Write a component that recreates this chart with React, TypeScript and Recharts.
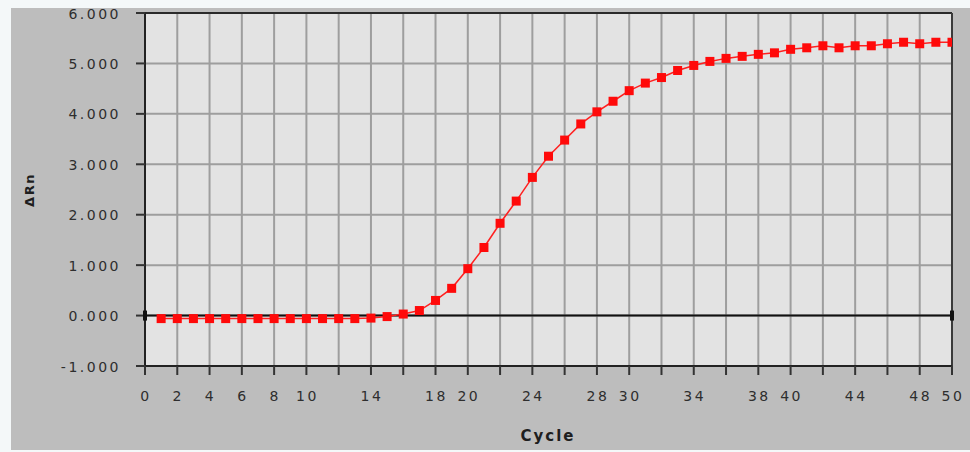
import React from 'react';
import { LineChart, Line, XAxis, YAxis, CartesianGrid, ReferenceLine, ReferenceDot } from 'recharts';

const cycles = [
    1, 2, 3, 4, 5, 6, 7, 8, 9, 10, 11, 12, 13, 14, 15, 16, 17, 18, 19, 20, 21, 22, 23, 24, 25,
    26, 27, 28, 29, 30, 31, 32, 33, 34, 35, 36, 37, 38, 39, 40, 41, 42, 43, 44, 45, 46, 47, 48, 49, 50,
];
const deltaRn = [
    -0.06, -0.06, -0.06, -0.06, -0.06, -0.06, -0.06, -0.06, -0.06, -0.06, -0.06, -0.06, -0.06,
    -0.05, -0.02, 0.03, 0.1, 0.3, 0.54, 0.93, 1.35, 1.83, 2.27, 2.74, 3.16, 3.48, 3.8, 4.04, 4.25,
    4.46, 4.61, 4.72, 4.86, 4.96, 5.04, 5.1, 5.14, 5.18, 5.21, 5.28, 5.31, 5.35, 5.31, 5.35, 5.35,
    5.39, 5.42, 5.39, 5.42, 5.42,
];
const yTicks = [-1, 0, 1, 2, 3, 4, 5, 6];
const xTicks = [0, 2, 4, 6, 8, 10, 12, 14, 16, 18, 20, 22, 24, 26, 28, 30, 32, 34, 36, 38, 40, 42, 44, 46, 48, 50];
const xTickLabels = [0, 2, 4, 6, 8, 10, 14, 18, 20, 24, 28, 30, 34, 38, 40, 44, 48, 50];

const data = cycles.map((c, i) => ({ cycle: c, rn: deltaRn[i] }));

const FONT = '"DejaVu Sans", Verdana, sans-serif';
const TEXT = '#2e2e2e';
const PLOT_RIGHT = 952; // right edge of the plot, squares are cut there

const YTick = (props: any) => {
    const { y, payload } = props;
    return (
        <text x={121} y={y + 5.5} textAnchor="end" fontFamily={FONT} fontSize={14} letterSpacing={2.5} fill={TEXT}>
            {payload.value.toFixed(3)}
        </text>
    );
};

const XTick = (props: any) => {
    const { x, payload } = props;
    if (!xTickLabels.includes(payload.value)) return <g />;
    return (
        <text x={x + 1} y={401} textAnchor="middle" fontFamily={FONT} fontSize={14} letterSpacing={2.5} fill={TEXT}>
            {payload.value}
        </text>
    );
};

const SquareDot = (props: any) => {
    const { cx, cy, index } = props;
    if (cx == null || cy == null) return <g key={`d-${index}`} />;
    const left = cx - 4.5;
    const w = Math.min(cx + 4.5, PLOT_RIGHT) - left;
    return <rect key={`d-${index}`} x={left} y={cy - 4.5} width={w} height={9} fill="#ff0a0a" />;
};

const Handle = (props: any) => {
    const { cx, cy } = props;
    return <rect x={cx - 2} y={cy - 5} width={4} height={10} fill="#111" />;
};

export default function App() {
    return (
        <div style={{ position: 'absolute', left: 0, top: 0, width: 970, height: 452, background: '#f4f8f9' }}>
            <div style={{ position: 'absolute', left: 11, top: 8, width: 959, height: 442, background: '#bdbdbd' }} />
            <div style={{ position: 'absolute', left: 0, top: 0 }}>
                <LineChart width={970} height={452} data={data} margin={{ top: 13, right: 18, bottom: 36, left: 10 }}>
                    <CartesianGrid stroke="#9e9e9e" strokeWidth={2} fill="#e3e3e3" />
                    <XAxis
                        dataKey="cycle"
                        type="number"
                        domain={[0, 50]}
                        ticks={xTicks}
                        interval={0}
                        height={50}
                        tickSize={9}
                        tick={<XTick />}
                        axisLine={{ stroke: '#222', strokeWidth: 2 }}
                        tickLine={{ stroke: '#333', strokeWidth: 2 }}
                    />
                    <YAxis
                        type="number"
                        domain={[-1, 6]}
                        ticks={yTicks}
                        interval={0}
                        width={135}
                        tickSize={9}
                        tick={<YTick />}
                        axisLine={{ stroke: '#222', strokeWidth: 2 }}
                        tickLine={{ stroke: '#333', strokeWidth: 2 }}
                    />
                    <ReferenceLine y={6} stroke="#2a2a2a" strokeWidth={2} />
                    <ReferenceLine x={50} stroke="#3a3a3a" strokeWidth={2} />
                    <ReferenceLine y={0} stroke="#111" strokeWidth={2} />
                    <ReferenceDot x={0} y={0} r={3} shape={<Handle />} />
                    <ReferenceDot x={50} y={0} r={3} shape={<Handle />} />
                    <Line
                        dataKey="rn"
                        stroke="#ff2020"
                        strokeWidth={1.5}
                        dot={SquareDot}
                        activeDot={false}
                        isAnimationActive={false}
                    />
                </LineChart>
            </div>
            <div style={{ position: 'absolute', left: 0, top: 0, width: 970, height: 452, pointerEvents: 'none' }}>
                <svg width={970} height={452}>
                    <text x={548} y={441} textAnchor="middle" fontFamily={FONT} fontWeight="bold" fontSize={15} letterSpacing={2} fill="#1e1e1e">
                        Cycle
                    </text>
                    <text
                        x={0}
                        y={0}
                        transform="translate(34,190) rotate(-90)"
                        textAnchor="middle"
                        fontFamily={FONT}
                        fontWeight="bold"
                        fontSize={13}
                        letterSpacing={1.5}
                        fill="#1e1e1e"
                    >
                        ΔRn
                    </text>
                </svg>
            </div>
        </div>
    );
}
